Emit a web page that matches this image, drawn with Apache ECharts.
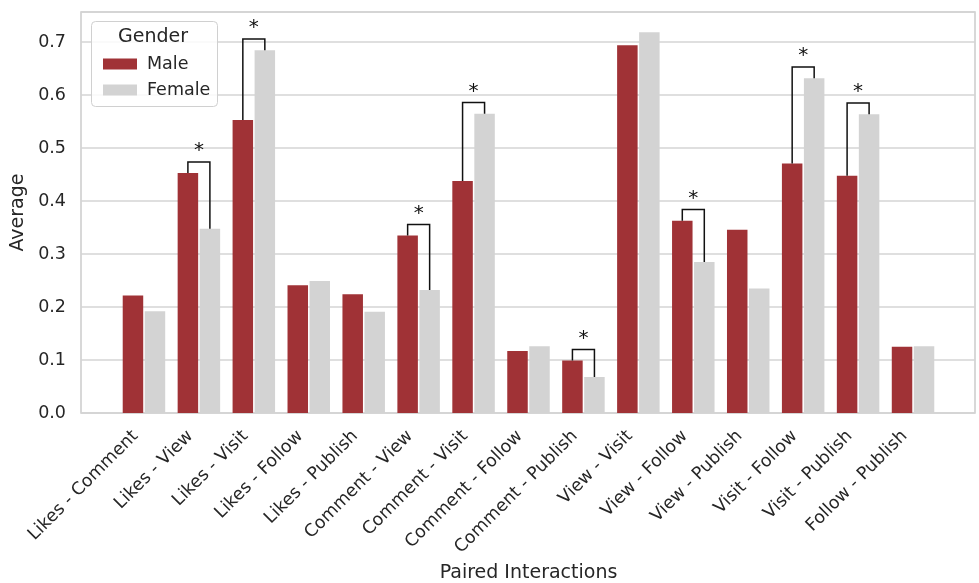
<!DOCTYPE html>
<html>
<head>
<meta charset="utf-8">
<script src="https://cdn.jsdelivr.net/npm/echarts@6/dist/echarts.min.js"></script>
<style>
html,body{margin:0;padding:0;background:#fff;}
#chart{width:979px;height:583px;}
</style>
</head>
<body>
<div id="chart"></div>
<script>
const categories = ["Likes - Comment","Likes - View","Likes - Visit","Likes - Follow","Likes - Publish","Comment - View","Comment - Visit","Comment - Follow","Comment - Publish","View - Visit","View - Follow","View - Publish","Visit - Follow","Visit - Publish","Follow - Publish"];
const maleValues   = [0.222,0.453,0.553,0.241,0.224,0.335,0.438,0.117,0.099,0.694,0.363,0.346,0.471,0.448,0.125];
const femaleValues = [0.192,0.348,0.685,0.249,0.191,0.232,0.565,0.126,0.068,0.719,0.285,0.235,0.632,0.564,0.126];
const significantIdx = [1,2,5,6,8,10,12,13];
const seriesNames = ["Male","Female"];
const legendTitle = "Gender";
const xTitle = "Paired Interactions";
const yTitle = "Average";

const FONT = "DejaVu Sans";
const TXT = "#262626";
const BAR_W = 20.5, GAP_PX = 1.5;
const Y_MAX = 0.757;
const bracketPad = 0.021;

const chart = echarts.init(document.getElementById('chart'), null, {renderer:'canvas'});

const bracketData = significantIdx.map(i => [i, maleValues[i], femaleValues[i]]);

const option = {
  backgroundColor: '#ffffff',
  animation: false,
  grid: [
    {left: 81, right: 4, top: 12, bottom: 170, show: true, borderColor: '#cccccc', borderWidth: 1.5, backgroundColor: 'transparent', outerBoundsMode: 'none', containLabel: false},
    {left: 116.5, right: 38.5, top: 12, bottom: 170, outerBoundsMode: 'none', containLabel: false}
  ],
  xAxis: [
    {gridIndex: 0, type: 'value', show: false, min: 0, max: 1},
    {gridIndex: 1, type: 'category', data: categories,
     axisLine: {show: false}, axisTick: {show: false},
     axisLabel: {rotate: 45, interval: 0, fontSize: 17.5, fontFamily: FONT, color: TXT, margin: 12, padding: [0, 12, 0, 0]},
     name: xTitle, nameLocation: 'middle', nameGap: 150,
     nameTextStyle: {fontSize: 19, fontFamily: FONT, color: TXT}}
  ],
  yAxis: [
    {gridIndex: 0, type: 'value', min: 0, max: Y_MAX, interval: 0.1,
     axisLine: {show: false}, axisTick: {show: false},
     splitLine: {show: true, lineStyle: {color: '#d5d5d5', width: 1.5}},
     axisLabel: {fontSize: 17.5, fontFamily: FONT, color: TXT, margin: 15, showMaxLabel: false,
                 formatter: v => v.toFixed(1)},
     name: yTitle, nameLocation: 'middle', nameGap: 45, nameRotate: 90,
     nameTextStyle: {fontSize: 19, fontFamily: FONT, color: TXT}},
    {gridIndex: 1, type: 'value', min: 0, max: Y_MAX, show: false, splitLine: {show: false}}
  ],
  legend: {
    orient: 'vertical', left: 98, top: 50, z: 20,
    data: seriesNames, itemWidth: 34, itemHeight: 11, itemGap: 8,
    icon: 'rect',
    textStyle: {fontSize: 17.5, fontFamily: FONT, color: TXT, padding: [0,0,0,5], lineHeight: 18}
  },
  graphic: [
    {type: 'rect', left: 91, top: 21, z: 15, shape: {width: 126, height: 85, r: 4},
     style: {fill: 'rgba(255,255,255,0.85)', stroke: '#d0d0d0', lineWidth: 1}},
    {type: 'text', z: 16, left: 118, top: 28,
     style: {text: legendTitle, font: '19px "DejaVu Sans"', fill: TXT}}
  ],
  series: [
    {name: seriesNames[0], type: 'bar', xAxisIndex: 1, yAxisIndex: 1, data: maleValues,
     barWidth: BAR_W, barGap: (GAP_PX / BAR_W * 100) + '%', itemStyle: {color: '#a03236'}},
    {name: seriesNames[1], type: 'bar', xAxisIndex: 1, yAxisIndex: 1, data: femaleValues,
     barWidth: BAR_W, itemStyle: {color: '#d3d3d3'}},
    {type: 'custom', xAxisIndex: 1, yAxisIndex: 1, data: bracketData, z: 5,
     encode: {x: 0, y: [1, 2]},
     renderItem: function (params, api) {
       const idx = api.value(0), m = api.value(1), f = api.value(2);
       const off = (BAR_W + GAP_PX) / 2;
       const cx = api.coord([idx, 0])[0];
       const xl = cx - off, xr = cx + off;
       const ym = api.coord([idx, m])[1];
       const yf = api.coord([idx, f])[1];
       const yt = api.coord([idx, Math.max(m, f) + bracketPad])[1];
       return {type: 'group', children: [
         {type: 'polyline', shape: {points: [[xl, ym], [xl, yt], [xr, yt], [xr, yf]]},
          style: {stroke: '#111', lineWidth: 1.5, fill: null}},
         {type: 'text', x: cx, y: yt - 1,
          style: {text: '*', font: '20px "DejaVu Sans"', fill: '#111', align: 'center', verticalAlign: 'bottom'}}
       ]};
     }}
  ]
};
chart.setOption(option);
</script>
</body>
</html>
